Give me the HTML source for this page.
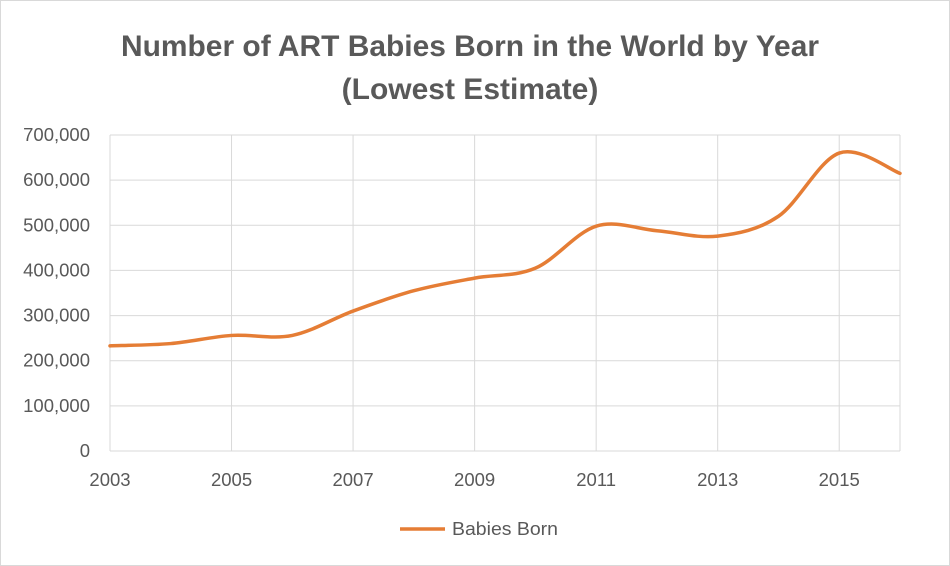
<!DOCTYPE html>
<html><head><meta charset="utf-8"><style>
body{margin:0;background:#fff}
svg{display:block}
text{font-family:"Liberation Sans",sans-serif;fill:#595959}
</style></head><body>
<svg id="s" width="950" height="566" xmlns="http://www.w3.org/2000/svg">
<rect x="0.5" y="0.5" width="949" height="565" fill="#fff" stroke="#d9d9d9"/>
<text x="470" y="56" font-size="30" font-weight="bold" text-anchor="middle" textLength="698" lengthAdjust="spacingAndGlyphs">Number of ART Babies Born in the World by Year</text>
<text x="470" y="99" font-size="30" font-weight="bold" text-anchor="middle">(Lowest Estimate)</text>
<g id="grid" stroke="#d9d9d9" stroke-width="1"></g>
<g id="lbl" font-size="18.5"></g>
<path id="p" fill="none" stroke="#E57D35" stroke-width="3.5" stroke-linecap="round"/>
<line x1="400" y1="529" x2="445" y2="529" stroke="#E57D35" stroke-width="3.5"/>
<text x="452" y="535" font-size="18.5" textLength="106" lengthAdjust="spacingAndGlyphs">Babies Born</text>
</svg>
<script>
var x0=110,x1=900,yb=451,yt=135;
function X(yr){return x0+(yr-2003)*(x1-x0)/13}
function Y(v){return yb-v*(yb-yt)/700000}
var g=document.getElementById('grid'),l=document.getElementById('lbl'),ns='http://www.w3.org/2000/svg';
function el(p,t,a,txt){var e=document.createElementNS(ns,t);for(var k in a)e.setAttribute(k,a[k]);if(txt!=null)e.textContent=txt;p.appendChild(e)}
for(var i=0;i<=7;i++){var y=Y(i*100000);el(g,'line',{x1:x0,x2:x1,y1:y,y2:y});
el(l,'text',{x:90,y:y+6,'text-anchor':'end'},i==0?'0':(i*100)+',000');}
for(var yr=2003;yr<=2016;yr+=2){var x=X(yr);el(g,'line',{x1:x,x2:x,y1:yt,y2:yb});
el(l,'text',{x:x,y:486,'text-anchor':'middle'},''+yr);}
el(g,'line',{x1:x1,x2:x1,y1:yt,y2:yb});
var d=[233e3,238e3,256e3,256e3,310e3,355e3,383e3,405e3,498e3,488e3,476e3,520e3,660e3,615e3];
var P=d.map(function(v,i){return [X(2003+i),Y(v)]});
var s='M'+P[0][0]+','+P[0][1];
for(var i=0;i<P.length-1;i++){var a=P[Math.max(0,i-1)],b=P[i],c=P[i+1],e=P[Math.min(P.length-1,i+2)];
var t=6;s+=' C'+(b[0]+(c[0]-a[0])/t)+','+(b[1]+(c[1]-a[1])/t)+' '+(c[0]-(e[0]-b[0])/t)+','+(c[1]-(e[1]-b[1])/t)+' '+c[0]+','+c[1];}
document.getElementById('p').setAttribute('d',s);
</script>
</body></html>
